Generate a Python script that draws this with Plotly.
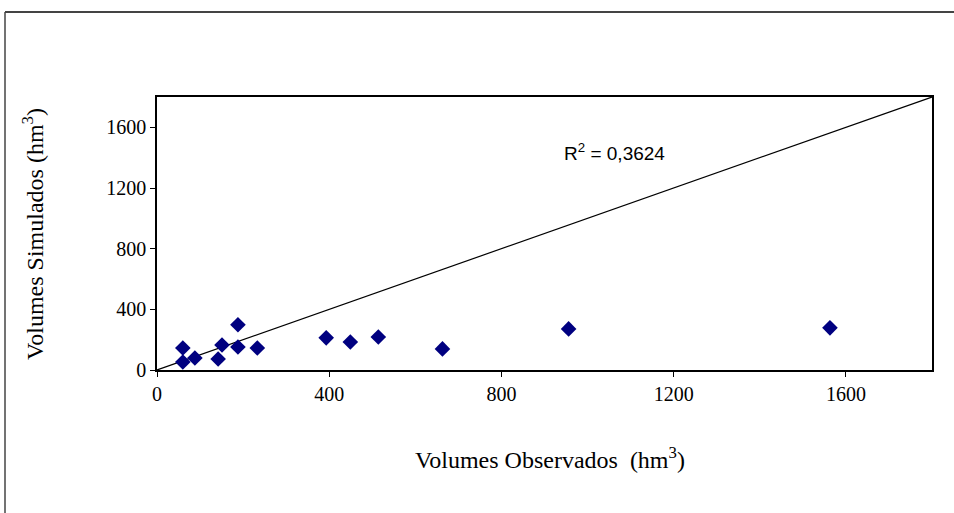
import plotly.graph_objects as go

# Observed vs simulated volumes (hm³)
observados = [60, 60, 88, 142, 151, 188, 188, 233, 393, 449, 514, 663, 956, 1563]
simulados = [145, 53, 79, 73, 165, 298, 152, 145, 212, 185, 218, 139, 271, 278]

# 1:1 reference line
linha_x = [0, 1800]
linha_y = [0, 1800]

tick_vals = [0, 400, 800, 1200, 1600]
r2_text = "R<sup>2</sup> = 0,3624"

W, H = 954, 513
ml, mr, mt, mb = 157, 22, 97, 143
pw, ph = W - ml - mr, H - mt - mb


def px_x(x):
    return (x - ml) / pw


def px_y(y):
    return (H - mb - y) / ph


fig = go.Figure()
fig.add_trace(go.Scatter(
    x=linha_x, y=linha_y, mode="lines",
    line=dict(color="black", width=1.2), hoverinfo="skip", showlegend=False,
))
fig.add_trace(go.Scatter(
    x=observados, y=simulados, mode="markers",
    marker=dict(symbol="diamond", size=12, color="#000080"),
    showlegend=False,
))

serif = "Liberation Serif, Times New Roman, serif"
axis_common = dict(
    range=[0, 1800], tickvals=tick_vals, showgrid=False, zeroline=False,
    showline=True, linecolor="black", linewidth=1.5, mirror=True,
    ticks="outside", ticklen=5, tickcolor="black",
    tickfont=dict(family=serif, size=20, color="black"),
)
fig.update_xaxes(**axis_common)
fig.update_yaxes(**axis_common)

fig.update_layout(
    width=W, height=H,
    margin=dict(l=ml, r=mr, t=mt, b=mb),
    paper_bgcolor="white", plot_bgcolor="white",
    annotations=[
        dict(text="Volumes Observados  (hm<sup>3</sup>)", xref="paper", yref="paper",
             x=px_x(550), y=px_y(458), showarrow=False,
             xanchor="center", yanchor="middle",
             font=dict(family=serif, size=24, color="black")),
        dict(text="Volumes Simulados (hm<sup>3</sup>)", xref="paper", yref="paper",
             x=px_x(33), y=px_y(234), showarrow=False, textangle=-90,
             xanchor="center", yanchor="middle",
             font=dict(family=serif, size=24, color="black")),
        dict(text=r2_text, xref="paper", yref="paper",
             x=px_x(614), y=px_y(152), showarrow=False,
             xanchor="center", yanchor="middle",
             font=dict(family="Liberation Sans, Arial, sans-serif", size=19, color="black")),
    ],
    shapes=[
        dict(type="line", xref="paper", yref="paper",
             x0=px_x(5), y0=px_y(12), x1=px_x(960), y1=px_y(12),
             line=dict(color="#444444", width=2)),
        dict(type="line", xref="paper", yref="paper",
             x0=px_x(5), y0=px_y(12), x1=px_x(5), y1=px_y(520),
             line=dict(color="#444444", width=1.5)),
    ],
)

fig.write_html("out.html")
